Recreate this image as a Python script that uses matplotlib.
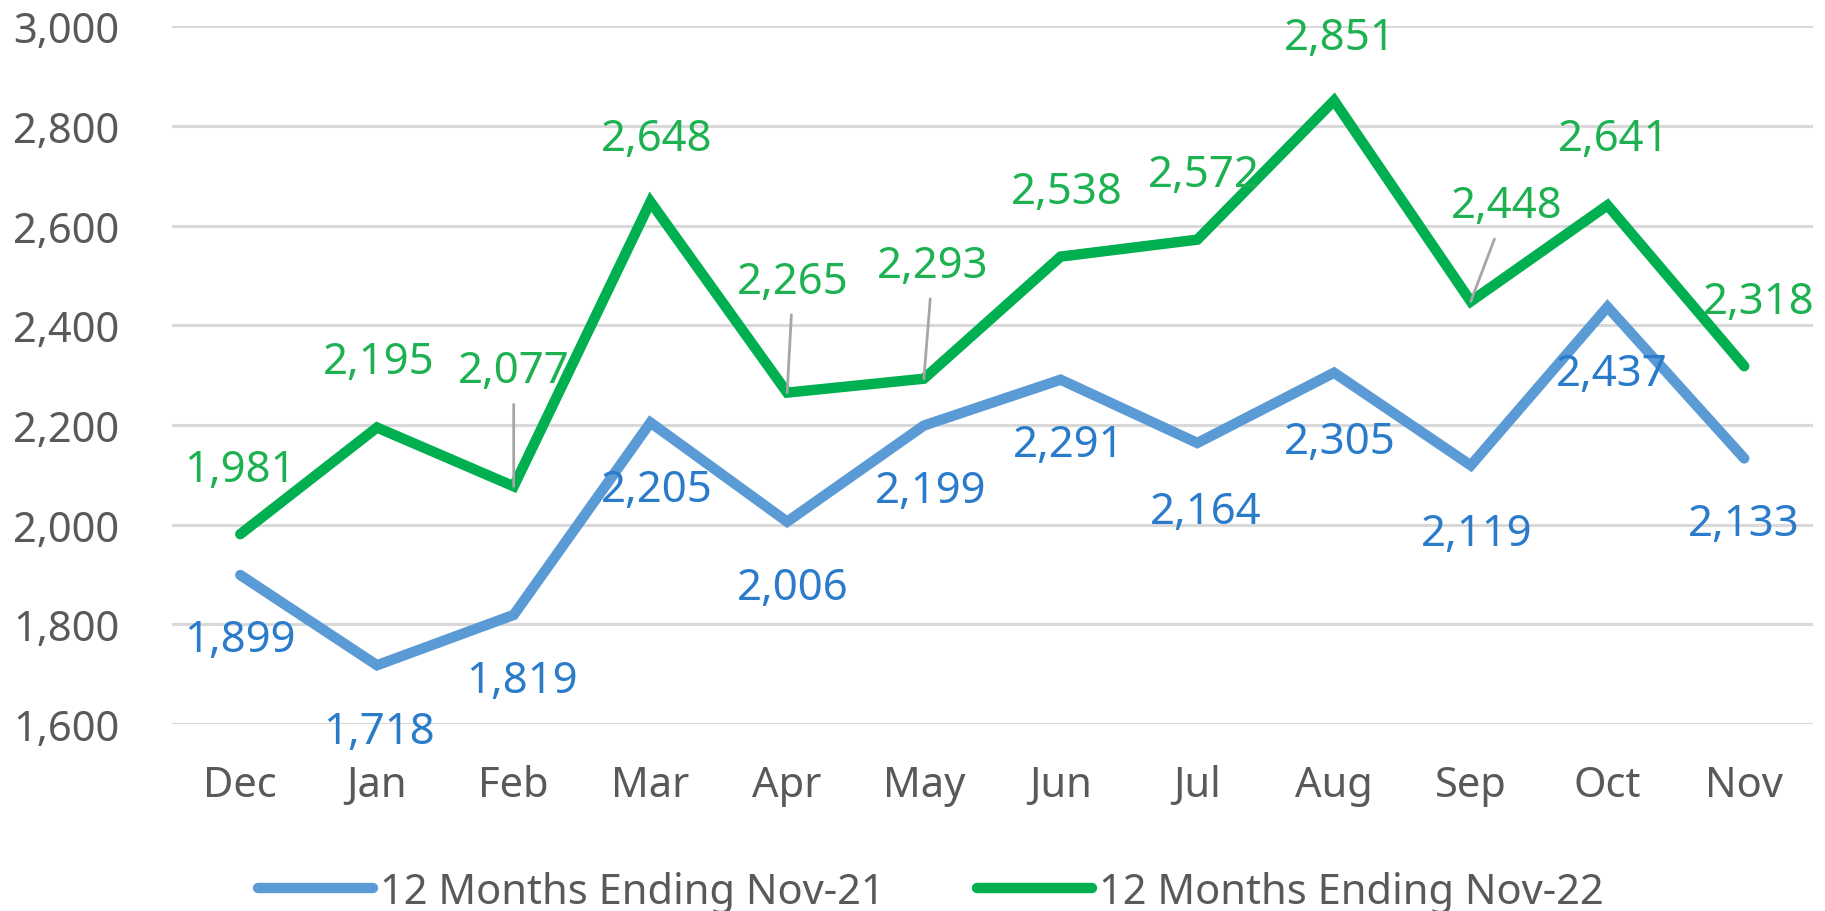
#! /usr/bin/env python3

'''
Monthly totals, 12 months ending Nov-21 vs 12 months ending Nov-22.
'''

import matplotlib.pyplot as plt
from matplotlib.ticker import FuncFormatter, MultipleLocator


months = ['Dec', 'Jan', 'Feb', 'Mar', 'Apr', 'May',
          'Jun', 'Jul', 'Aug', 'Sep', 'Oct', 'Nov']
nov21 = [1899, 1718, 1819, 2205, 2006, 2199,
         2291, 2164, 2305, 2119, 2437, 2133]
nov22 = [1981, 2195, 2077, 2648, 2265, 2293,
         2538, 2572, 2851, 2448, 2641, 2318]
labels = ['12 Months Ending Nov-21', '12 Months Ending Nov-22']

# label offsets in pixels (dx, dy) from each point
off21 = [(0, -65), (2, -67), (8, -66), (6, -67), (6, -66), (7, -65),
         (8, -65), (8, -69), (6, -69), (6, -69), (4, -67), (0, -66)]
off22 = [(0, 64), (2, 66), (0, 115), (6, 63), (6, 111), (9, 113),
         (6, 65), (6, 65), (6, 63), (36, 95), (6, 66), (15, 64)]
leader22 = [2, 4, 5, 9]

BLUE = '#5B9BD5'
GREEN = '#00B050'
BLUE_TXT = '#2B7BCB'
GREEN_TXT = '#1DB152'
GREY_TXT = '#595959'

plt.rcParams['font.family'] = ['Noto Sans', 'DejaVu Sans']


def main():
    fig = plt.figure(figsize=(18.25, 9.12), dpi=100)
    ax = fig.add_axes([0.0942, 0.205, 0.899, 0.765])
    x = list(range(len(months)))

    ax.plot(x, nov21, color=BLUE, lw=7.5, solid_capstyle='round',
            solid_joinstyle='miter', label=labels[0], zorder=3)
    ax.plot(x, nov22, color=GREEN, lw=7.5, solid_capstyle='round',
            solid_joinstyle='miter', label=labels[1], zorder=3)

    for i, v in enumerate(nov21):
        ax.annotate(f'{v:,}', (i, v), xytext=off21[i],
                    textcoords='offset pixels', ha='center', va='center',
                    fontsize=31.5, color=BLUE_TXT, zorder=4)
    for i, v in enumerate(nov22):
        arrow = None
        if i in leader22:
            arrow = dict(arrowstyle='-', color='#A6A6A6', lw=2,
                         shrinkA=6, shrinkB=0)
        ax.annotate(f'{v:,}', (i, v), xytext=off22[i],
                    textcoords='offset pixels', ha='center', va='center',
                    fontsize=31.5, color=GREEN_TXT, zorder=4,
                    arrowprops=arrow)

    ax.set_xlim(-0.5, len(months) - 0.5)
    ax.set_ylim(1600, 3000)
    ax.yaxis.set_major_locator(MultipleLocator(200))
    ax.yaxis.set_major_formatter(FuncFormatter(lambda v, p: f'{v:,.0f}'))
    ax.set_xticks(x)
    ax.set_xticklabels(months)
    ax.tick_params(axis='both', length=0, labelsize=30, colors=GREY_TXT)
    ax.tick_params(axis='y', pad=38)
    ax.tick_params(axis='x', pad=29)
    ax.grid(axis='y', color='#D9D9D9', lw=2.2)
    ax.set_axisbelow(True)
    for spine in ax.spines.values():
        spine.set_visible(False)

    leg = fig.legend(loc='center', bbox_to_anchor=(0.51, 19 / 912),
                     ncol=2, frameon=False, fontsize=30, handlelength=2.75,
                     handletextpad=0.17, columnspacing=2.23)
    for t in leg.get_texts():
        t.set_color(GREY_TXT)

    fig.savefig('out.png', dpi=100)


if __name__ == '__main__':
    main()
